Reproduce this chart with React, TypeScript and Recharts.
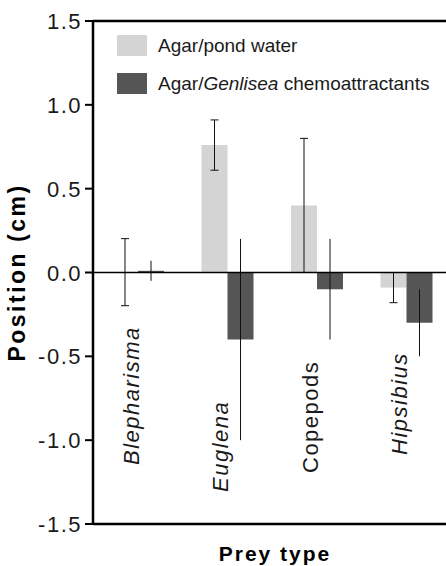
import React from "react";
import {
  BarChart,
  Bar,
  XAxis,
  YAxis,
  ErrorBar,
  ReferenceLine,
  Legend,
  Label,
} from "recharts";

const preyTypes = ["Blepharisma", "Euglena", "Copepods", "Hipsibius"];
const pondWater = [0.002, 0.76, 0.4, -0.09];
const pondWaterErr = [0.2, 0.15, 0.4, 0.09];
const genlisea = [0.01, -0.4, -0.1, -0.3];
const genliseaErr = [0.06, 0.6, 0.3, 0.2];
const yTicks = [-1.5, -1, -0.5, 0, 0.5, 1, 1.5];
const seriesNames = ["Agar/pond water", "Agar/Genlisea chemoattractants"];
const seriesColors = ["#d4d4d4", "#555555"];
const italicWords = ["Blepharisma", "Euglena", "Hipsibius", "Genlisea"];

const data = preyTypes.map((prey, i) => ({
  prey,
  pond: pondWater[i],
  pondErr: pondWaterErr[i],
  genlisea: genlisea[i],
  genliseaErr: genliseaErr[i],
}));

const font = "'Liberation Sans', Arial, sans-serif";
const textColor = "#1a1a1a";

// how far above the bottom axis each rotated category name starts
const labelLift: Record<string, number> = {
  Blepharisma: 59,
  Euglena: 32,
  Copepods: 51,
  Hipsibius: 69,
};

function withItalics(text: string) {
  const re = new RegExp(`(${italicWords.join("|")})`);
  return text.split(re).map((part, i) =>
    italicWords.includes(part) ? <i key={i}>{part}</i> : <span key={i}>{part}</span>
  );
}

function PreyTick(props: any) {
  const { x, y, payload } = props;
  const name = payload.value as string;
  const lift = labelLift[name] ?? 50;
  return (
    <text
      transform={`translate(${x + 1}, ${y - lift}) rotate(-90)`}
      textAnchor="start"
      fontSize={22}
      fontFamily={font}
      fill={textColor}
      fontStyle={italicWords.includes(name) ? "italic" : "normal"}
      style={{ letterSpacing: "1.5px" }}
    >
      {name}
    </text>
  );
}

function ValueTick(props: any) {
  const { x, y, payload } = props;
  return (
    <text
      x={x + 1}
      y={y}
      dy={8}
      textAnchor="end"
      fontSize={22}
      fontFamily={font}
      fill={textColor}
      style={{ letterSpacing: "1.5px" }}
    >
      {Number(payload.value).toFixed(1)}
    </text>
  );
}

function renderLegend() {
  return (
    <div style={{ fontFamily: font, fontSize: 19, color: textColor }}>
      {seriesNames.map((name, i) => (
        <div
          key={name}
          style={{ display: "flex", alignItems: "center", height: 21, marginBottom: 17 }}
        >
          <span
            style={{
              display: "inline-block",
              width: 30,
              height: 21,
              background: seriesColors[i],
              marginRight: 11,
            }}
          />
          <span style={{ whiteSpace: "nowrap" }}>{withItalics(name)}</span>
        </div>
      ))}
    </div>
  );
}

export default function App() {
  return (
    <div
      style={{
        position: "absolute",
        left: 0,
        top: 0,
        width: 446,
        height: 566,
        overflow: "hidden",
        background: "#fff",
      }}
    >
      <BarChart
        width={460}
        height={566}
        data={data}
        margin={{ top: 21, right: 9, left: 0, bottom: 0 }}
        barSize={26}
        barGap={0}
      >
        <XAxis
          dataKey="prey"
          height={42}
          axisLine={{ stroke: "#000", strokeWidth: 2.5 }}
          tickLine={false}
          tickSize={0}
          tickMargin={0}
          interval={0}
          tick={<PreyTick />}
        >
          <Label
            content={(p: any) => {
              const vb = p.viewBox;
              return (
                <text
                  x={vb.x + vb.width / 2 + 3}
                  y={561}
                  textAnchor="middle"
                  fontSize={21}
                  fontWeight="bold"
                  fontFamily={font}
                  fill="#000"
                  style={{ letterSpacing: "2px" }}
                >
                  Prey type
                </text>
              );
            }}
          />
        </XAxis>
        <YAxis
          width={93}
          domain={[-1.5, 1.5]}
          ticks={yTicks}
          interval={0}
          allowDataOverflow
          axisLine={{ stroke: "#000", strokeWidth: 2.5 }}
          tickLine={{ stroke: "#000", strokeWidth: 2 }}
          tickSize={8}
          tickMargin={4}
          tick={<ValueTick />}
        >
          <Label
            content={(p: any) => {
              const vb = p.viewBox;
              const cx = 25;
              const cy = vb.y + vb.height / 2;
              return (
                <text
                  transform={`translate(${cx}, ${cy}) rotate(-90)`}
                  textAnchor="middle"
                  fontSize={23}
                  fontWeight="bold"
                  fontFamily={font}
                  fill="#000"
                  style={{ letterSpacing: "2.5px" }}
                >
                  Position (cm)
                </text>
              );
            }}
          />
        </YAxis>
        <Legend
          layout="vertical"
          align="center"
          verticalAlign="middle"
          wrapperStyle={{ left: 117, top: 35, width: 320, height: 80 }}
          content={renderLegend}
        />
        <ReferenceLine y={1.5} stroke="#000" strokeWidth={2.5} />
        <Bar dataKey="pond" fill={seriesColors[0]} isAnimationActive={false}>
          <ErrorBar dataKey="pondErr" width={4} stroke="#111" strokeWidth={1} />
        </Bar>
        <Bar dataKey="genlisea" fill={seriesColors[1]} isAnimationActive={false}>
          <ErrorBar dataKey="genliseaErr" width={0} stroke="#111" strokeWidth={1} />
        </Bar>
        <ReferenceLine y={0} stroke="#000" strokeWidth={1.3} />
      </BarChart>
    </div>
  );
}
